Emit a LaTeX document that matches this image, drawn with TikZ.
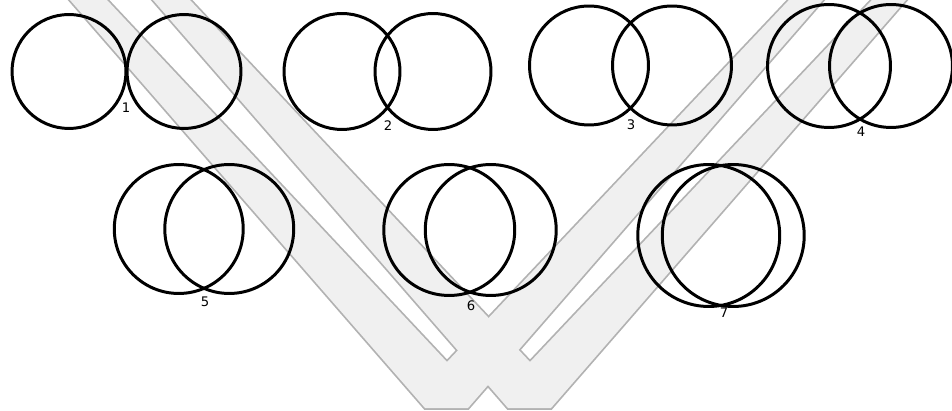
\documentclass[tikz,border=0pt]{standalone}
\usepackage{fontspec}
\newfontfamily\lblfont{DejaVu Sans}

\tikzset{
  ring/.style={circle, draw=black, line width=1.7pt, inner sep=0pt, outer sep=0pt},
  numlbl/.style={font=\lblfont\fontsize{7.5}{9}\selectfont, inner sep=0pt},
  wmark/.style={draw=black!30, line width=2pt},
  wfill/.style={fill=black!6}
}

\begin{document}
\begin{tikzpicture}[x=0.02cm, y=-0.02cm]
  \useasboundingbox (0,0) rectangle (952,411);
  % faint W in the background
  \begin{scope}
    \clip (0,0) rectangle (952,411);
    \foreach \s in {wmark, wfill}
      \foreach \o in {0,83} {
        \path[\s] (52.6+\o,-20) -- (425+\o,408) -- (468+\o,408) -- (840.4+\o,-20)
          -- (807.8+\o,-20) -- (447+\o,362) -- (88.2+\o,-20) -- cycle;
      }
  \end{scope}
  % pairs of circles: number / mid x / mid y / centre distance / radius / label x / label y
  \foreach \n/\cx/\cy/\d/\r/\lx/\ly in {
      1/126.5/71.5/115/57/126/108, 2/387.5/71.5/91/58/388/126,
      3/630.5/65.5/83/59.5/631/125, 4/860/66/62/61.5/861/132,
      5/204/229/50.5/64.5/205/302, 6/470/230/41.5/65.5/471/306,
      7/721/235.5/24.5/71/724/313} {
    \pgfmathsetmacro\dm{\r*0.04}
    \node[ring, minimum size=\dm cm] (l\n) at (\cx-\d/2,\cy) {};
    \node[ring, minimum size=\dm cm] (r\n) at (\cx+\d/2,\cy) {};
    \node[numlbl] (n\n) at (\lx,\ly) {\n};
  }
\end{tikzpicture}
\end{document}
